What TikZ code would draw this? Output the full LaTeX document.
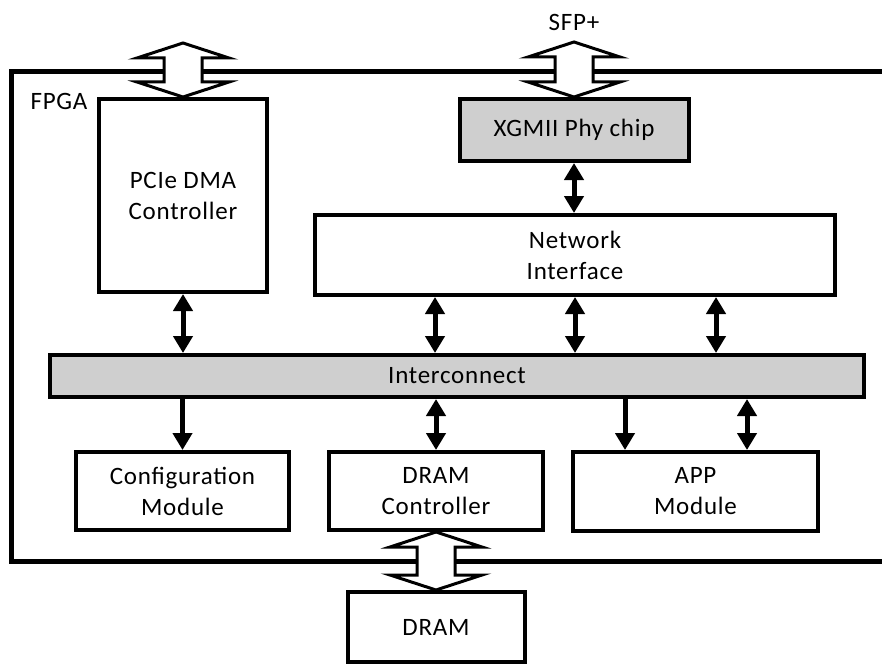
\documentclass[tikz,border=0pt]{standalone}
\usepackage{fontspec}
\setmainfont{Carlito}[LetterSpace=3]
\usetikzlibrary{arrows.meta,calc}

% hollow double-headed block arrow between two points on a vertical line
\newcommand\blockarrow[2]{%
  \draw[hollow] let \p1=(#1), \p2=(#2) in
    (\x1,\y1) -- ++(46pt,-15pt) -- ++(-27pt,0pt) -- (\x1+19pt,\y2+15pt)
    -- ++(27pt,0pt) -- (\x2,\y2) -- ++(-46pt,15pt) -- ++(27pt,0pt)
    -- (\x1-19pt,\y1-15pt) -- ++(-27pt,0pt) -- cycle;}

\begin{document}
\begin{tikzpicture}[x=1pt,y=-1pt,
  txt/.style={font=\fontsize{25}{31}\selectfont},
  box/.style={draw,line width=4pt,fill=white,inner sep=0pt,align=center,txt},
  graybox/.style={box,fill=black!19},
  hollow/.style={draw,line width=3pt,fill=white,line join=miter},
  link/.style={line width=5pt,{Triangle[width=19pt,length=17pt]}-{Triangle[width=19pt,length=17pt]}},
  down/.style={line width=5pt,-{Triangle[width=19pt,length=17pt]}}]
\useasboundingbox (0,0) rectangle (882,666);

% FPGA outline, open to the right
\draw[line width=5pt] (890,72) -- (11,72) -- (11,561) -- (890,561);
\node[txt,anchor=west] (fpga) at (27,101) {FPGA};

% external labels and arrow end points
\node[txt] (sfp) at (574,22) {SFP+};
\coordinate (pcieext) at (183,43);
\coordinate (sfpext) at (574,42);

% blocks
\node[box,minimum width=168pt,minimum height=193pt] (pcie) at (183,195.5) {PCIe DMA\\Controller};
\node[graybox,minimum width=229pt,minimum height=62pt] (xg) at (574,130) {XGMII Phy chip};
\node[box,minimum width=520pt,minimum height=80pt] (ni) at (575,255) {Network\\Interface};
\node[graybox,minimum width=814pt,minimum height=42pt] (ic) at (457,376) {Interconnect};
\node[box,minimum width=213pt,minimum height=78pt] (cfg) at (182.5,491) {Configuration\\Module};
\node[box,minimum width=214pt,minimum height=78pt] (dc) at (436,491) {DRAM\\Controller};
\node[box,minimum width=245pt,minimum height=79pt] (app) at (695.5,491.5) {APP\\Module};
\node[box,minimum width=177pt,minimum height=70pt] (dram) at (436,627) {DRAM};

% block arrows crossing the FPGA boundary
\blockarrow{pcieext}{pcie.north}
\blockarrow{sfpext}{xg.north}
\blockarrow{dc.south}{dram.north}

% connections
\draw[link] (xg.south) -- (xg.south |- ni.north);
\draw[link] (pcie.south) -- (pcie.south |- ic.north);
\draw[link] ([xshift=-140pt]ni.south) -- ([xshift=-140pt]ni.south |- ic.north);
\draw[link] (ni.south) -- (ni.south |- ic.north);
\draw[link] ([xshift=141pt]ni.south) -- ([xshift=141pt]ni.south |- ic.north);
\draw[down] (cfg.north |- ic.south) -- (cfg.north);
\draw[link] (dc.north |- ic.south) -- (dc.north);
\draw[down] ([xshift=-70.5pt]app.north |- ic.south) -- ([xshift=-70.5pt]app.north);
\draw[link] ([xshift=51.5pt]app.north |- ic.south) -- ([xshift=51.5pt]app.north);
\end{tikzpicture}
\end{document}
